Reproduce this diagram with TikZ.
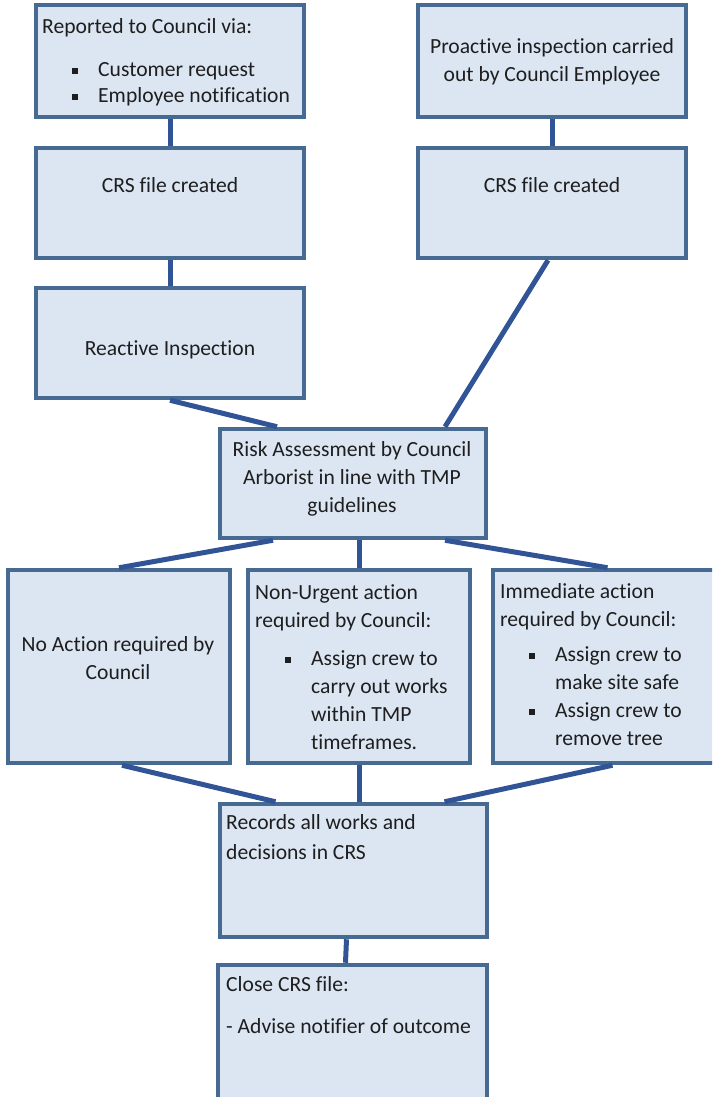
\documentclass[tikz,border=0pt]{standalone}
\usepackage{fontspec}
\setmainfont{Carlito}[Ligatures=NoCommon]
\usetikzlibrary{positioning}
\definecolor{boxfill}{RGB}{220,230,242}
\definecolor{boxline}{RGB}{70,106,146}
\definecolor{linkblue}{RGB}{48,84,150}
\definecolor{ink}{RGB}{30,30,30}
\newcommand{\bul}{\makebox[26pt][l]{\rule[2.5pt]{6pt}{6pt}}}

\begin{document}
\begin{tikzpicture}[x=1pt, y=-1pt,
  box/.style={draw=boxline, fill=boxfill, line width=4.5pt, minimum width=268pt,
              minimum height=110pt, inner sep=0pt},
  txt/.style={font=\fontsize{21.6}{28}\selectfont, text=ink, inner sep=0pt,
              align=left, anchor=north west},
  ctxt/.style={txt, align=center, anchor=north},
  link/.style={draw=linkblue, line width=5pt},
]
\path[use as bounding box] (0,0) rectangle (712,1097);
\clip (0,0) rectangle (712,1097);

% Reported / proactive
\node[box, minimum height=112pt] (rep) at (170,61) {};
\node[box, minimum height=112pt] (pro) at (552,61) {};
\node[txt] (repT) at (42,13.4) {\strut Reported to Council via:\\[15pt]
  \hspace*{30pt}\bul Customer request\\[-2pt]
  \hspace*{30pt}\bul Employee notification};
\node[ctxt] (proT) at (552,33.4) {\strut Proactive inspection carried\\out by Council Employee};

% CRS files
\node[box] (crsA) at (170,203) {};
\node[box] (crsB) at (552,203) {};
\node[ctxt, anchor=base] (crsAT) at (170,192) {CRS file created};
\node[ctxt, anchor=base] (crsBT) at (552,192) {CRS file created};

% Reactive inspection
\node[box] (rea) at (170,343) {};
\node[ctxt, anchor=base] (reaT) at (170,355) {Reactive Inspection};

% Risk assessment
\node[box, minimum width=266pt, minimum height=109pt] (risk) at (353,483.5) {};
\node[ctxt] (riskT) at (352,436.4) {\strut Risk Assessment by Council\\Arborist in line with TMP\\guidelines};

% Outcomes
\node[box, minimum width=222pt, minimum height=193pt] (noact) at (119,666.5) {};
\node[box, minimum width=222pt, minimum height=193pt] (nonurg) at (359,666.5) {};
\node[box, minimum width=223pt, minimum height=193pt] (immed) at (604.5,666.5) {};
\node[ctxt] (noactT) at (118,631.4) {\strut No Action required by\\Council};
\node[txt] (nonurgT) at (255,579.4) {\strut Non-Urgent action\\required by Council:\\[10pt]
  \hspace*{30pt}\bul Assign crew to\\
  \hspace*{56pt}carry out works\\
  \hspace*{56pt}within TMP\\
  \hspace*{56pt}timeframes.};
\node[txt] (immedT) at (500,578.4) {\strut Immediate action\\required by Council:\\[7pt]
  \hspace*{29pt}\bul Assign crew to\\
  \hspace*{55pt}make site safe\\
  \hspace*{29pt}\bul Assign crew to\\
  \hspace*{55pt}remove tree};

% Records and close
\node[box, minimum width=267pt, minimum height=133pt] (rec) at (353.5,870.5) {};
\node[box, minimum width=269pt, minimum height=180pt] (close) at (352.5,1055) {};
\node[txt] (recT) at (226,809.4) {\strut Records all works and\\[2pt]decisions in CRS};
\node[txt] (closeT) at (226,971.4) {\strut Close CRS file:\\[14pt]- Advise notifier of outcome};

% Connectors
\draw[link] (rep.south) -- (crsA.north);
\draw[link] (pro.south) -- (crsB.north);
\draw[link] (crsA.south) -- (rea.north);
\draw[link] (rea.south) -- ([xshift=-76pt]risk.north);
\draw[link] ([xshift=-4pt]crsB.south) -- ([xshift=92pt]risk.north);
\draw[link] ([xshift=-80pt]risk.south) -- (noact.north);
\draw[link] (risk.south -| nonurg.north) -- (nonurg.north);
\draw[link] ([xshift=92pt]risk.south) -- ([xshift=3pt]immed.north);
\draw[link] ([xshift=3pt]noact.south) -- ([xshift=-78pt]rec.north);
\draw[link] (nonurg.south) -- (nonurg.south |- rec.north);
\draw[link] ([xshift=8pt]immed.south) -- ([xshift=91pt]rec.north);
\draw[link] ([xshift=-7pt]rec.south) -- ([xshift=-7pt]close.north);

\end{tikzpicture}
\end{document}
